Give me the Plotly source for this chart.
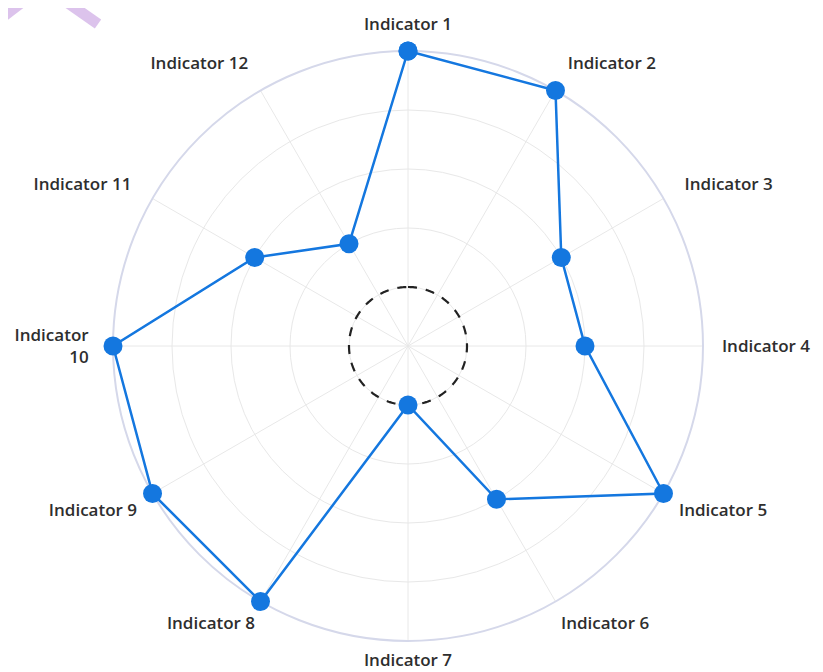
import numpy as np
import plotly.graph_objects as go

categories = [f"Indicator {i}" for i in range(1, 13)]
tick_labels = [f"Indicator {i}" for i in range(1, 10)] + ["Indicator<br>10", "Indicator 11", "Indicator 12"]
values = [5, 5, 3, 3, 5, 3, 1, 5, 5, 5, 3, 2]
threshold = 1
radial_max = 5

# label groups (index into categories) with their distance from the rim
label_groups = [
    ([1, 2, 9, 10, 11], 20),      # Indicator 2,3,10,11,12
    ([0, 4, 8], 14),              # Indicator 1,5,9
    ([5, 7], 7),                  # Indicator 6,8
    ([6], 4),                     # Indicator 7
    ([3], 15),                    # Indicator 4
]

W, H = 823, 672
OFF = 8  # page body margin
angles = [i * 360 / len(categories) for i in range(len(categories))]

fig = go.Figure()

# dashed threshold circle
circle_theta = np.linspace(0, 360, 361)
fig.add_trace(go.Scatterpolar(
    r=[threshold] * len(circle_theta), theta=circle_theta,
    mode="lines", line=dict(color="#222222", width=2.2, dash="dash"),
    hoverinfo="skip", showlegend=False))

fig.add_trace(go.Scatterpolar(
    r=values + [values[0]], theta=angles + [angles[0]],
    mode="lines+markers",
    line=dict(color="#1477df", width=2.5),
    marker=dict(color="#1477df", size=19),
    cliponaxis=False,
    text=categories + [categories[0]],
    showlegend=False))

cx, cy, R = 408 - OFF, 346 - OFF, 295
dom_x = [(cx - R) / W, (cx + R) / W]
dom_y = [1 - (cy + R) / H, 1 - (cy - R) / H]
tickfont = dict(family="Open Sans, sans-serif", size=17, color="#2e2e2e", weight=600)

polars = {}
for k, (idx, tlen) in enumerate(label_groups):
    name = "polar" if k == 0 else f"polar{k + 1}"
    if k == 0:
        tv = angles
        tt = [tick_labels[i] if i in idx else "" for i in range(len(angles))]
    else:
        tv = [angles[i] for i in idx]
        tt = [tick_labels[i] for i in idx]
        fig.add_trace(go.Scatterpolar(r=[threshold], theta=[0], mode="markers",
                                      marker=dict(opacity=0), hoverinfo="skip",
                                      showlegend=False, subplot=name))
    polars[name] = dict(
        domain=dict(x=dom_x, y=dom_y),
        bgcolor="rgba(0,0,0,0)",
        radialaxis=dict(range=[0, radial_max], dtick=1, showticklabels=False, ticks="",
                        showline=False, showgrid=(k == 0), gridcolor="#e8e8e8",
                        gridwidth=1, layer="below traces"),
        angularaxis=dict(rotation=90, direction="clockwise", thetaunit="degrees",
                         tickmode="array", tickvals=tv, ticktext=tt,
                         ticks="outside", ticklen=tlen, tickcolor="rgba(0,0,0,0)",
                         showline=(k == 0), linecolor="#d5d8ea", linewidth=2,
                         showgrid=(k == 0), gridcolor="#e8e8e8", gridwidth=1,
                         layer="below traces", tickfont=tickfont),
    )

fig.update_layout(
    width=W, height=H,
    margin=dict(l=0, r=0, t=0, b=0),
    paper_bgcolor="white",
    font=dict(family="Open Sans, sans-serif", size=17, color="#2e2e2e"),
    **polars,
)

# decorative lavender corner mark
def px(x, y):
    return (x - OFF) / W, 1 - (y - OFF) / H
for (x0, y0, x1, y1) in [(-4, 22, 30, -4), (58, -4, 98, 24)]:
    a, b = px(x0, y0)
    c, d = px(x1, y1)
    fig.add_shape(type="line", xref="paper", yref="paper", x0=a, y0=b, x1=c, y1=d,
                  line=dict(color="#dcc3ec", width=11))

fig.write_html("out.html")
